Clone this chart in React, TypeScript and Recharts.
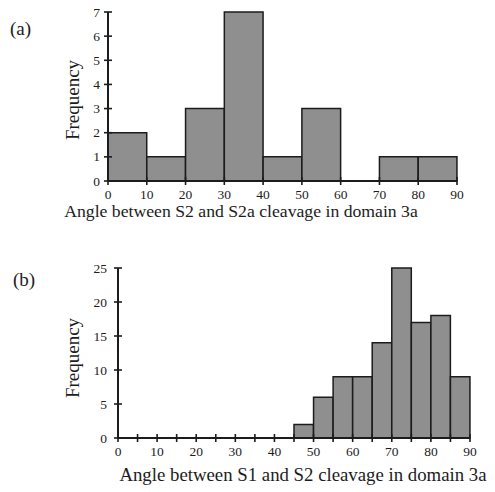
import React from "react"
import { BarChart, Bar, XAxis, YAxis } from "recharts"

// panel (a): 10 degree bins (bin centres)
const binsA = [5, 15, 25, 35, 45, 55, 65, 75, 85]
const countsA = [2, 1, 3, 7, 1, 3, 0, 1, 1]
const xTicksA = [0, 10, 20, 30, 40, 50, 60, 70, 80, 90]
const yTicksA = [0, 1, 2, 3, 4, 5, 6, 7]

// panel (b): 5 degree bins (bin centres)
const binsB = [47.5, 52.5, 57.5, 62.5, 67.5, 72.5, 77.5, 82.5, 87.5]
const countsB = [2, 6, 9, 9, 14, 25, 17, 18, 9]
const xTicksB = [0, 5, 10, 15, 20, 25, 30, 35, 40, 45, 50, 55, 60, 65, 70, 75, 80, 85, 90]
const yTicksB = [0, 5, 10, 15, 20, 25]

const dataA = binsA.map((angle, i) => ({ angle, count: countsA[i] }))
const dataB = binsB.map((angle, i) => ({ angle, count: countsB[i] }))

const INK = "#1c1c1c"
const FILL = "#8f8f8f"
const FONT = "'Liberation Serif', 'DejaVu Serif', serif"

// plot widths, used to make bars one bin wide (just under the band so recharts doesn't shrink them)
const plotA = 495 - 38 - 108
const plotB = 495 - 25 - 118

const XTick = (props: any) => {
  const { x, y, payload } = props
  const v = payload.value
  return (
    <g>
      <line x1={x} x2={x} y1={y - 4} y2={y + 4} stroke={INK} strokeWidth={1.6} />
      {v % 10 === 0 && (
        <text x={x} y={y + 18} textAnchor="middle" fontSize={13.5} fill={INK} fontFamily={FONT}>
          {v}
        </text>
      )}
    </g>
  )
}

const YTick = (props: any) => {
  const { x, y, payload, gap } = props
  return (
    <g>
      <line x1={x - 4} x2={x + 4} y1={y} y2={y} stroke={INK} strokeWidth={1.6} />
      <text x={x - gap} y={y + 4.5} textAnchor="end" fontSize={13.5} fill={INK} fontFamily={FONT}>
        {payload.value}
      </text>
    </g>
  )
}

const label = (text: string, style: React.CSSProperties) => (
  <div
    style={{
      position: "absolute",
      fontFamily: FONT,
      color: INK,
      whiteSpace: "nowrap",
      lineHeight: 1,
      ...style,
    }}
  >
    {text}
  </div>
)

export default function App() {
  return (
    <div style={{ position: "absolute", left: 0, top: 0, width: 495, height: 492, background: "#fff" }}>
      <div style={{ position: "absolute", left: 0, top: 0 }}>
        <BarChart
          width={495}
          height={230}
          data={dataA}
          margin={{ top: 12, right: 38, bottom: 19, left: 68 }}
          barSize={plotA / 9 - 0.05}
        >
          <XAxis
            dataKey="angle"
            type="number"
            domain={[0, 90]}
            ticks={xTicksA}
            interval={0}
            height={30}
            tickSize={0}
            tickMargin={0}
            tickLine={false}
            axisLine={{ stroke: INK, strokeWidth: 2 }}
            tick={<XTick />}
          />
          <YAxis
            domain={[0, 7]}
            ticks={yTicksA}
            interval={0}
            width={40}
            tickSize={0}
            tickMargin={0}
            tickLine={false}
            axisLine={{ stroke: INK, strokeWidth: 2 }}
            tick={<YTick gap={8} />}
          />
          <Bar dataKey="count" fill={FILL} stroke={INK} strokeWidth={1.5} isAnimationActive={false} />
        </BarChart>
      </div>
      <div style={{ position: "absolute", left: 0, top: 250 }}>
        <BarChart
          width={495}
          height={242}
          data={dataB}
          margin={{ top: 18, right: 25, bottom: 24, left: 78 }}
          barSize={plotB / 18 - 0.05}
        >
          <XAxis
            dataKey="angle"
            type="number"
            domain={[0, 90]}
            ticks={xTicksB}
            interval={0}
            height={30}
            tickSize={0}
            tickMargin={0}
            tickLine={false}
            axisLine={{ stroke: INK, strokeWidth: 2 }}
            tick={<XTick />}
          />
          <YAxis
            domain={[0, 25]}
            ticks={yTicksB}
            interval={0}
            width={40}
            tickSize={0}
            tickMargin={0}
            tickLine={false}
            axisLine={{ stroke: INK, strokeWidth: 2 }}
            tick={<YTick gap={11} />}
          />
          <Bar dataKey="count" fill={FILL} stroke={INK} strokeWidth={1.5} isAnimationActive={false} />
        </BarChart>
      </div>
      {label("(a)", { left: 10, top: 19, fontSize: 19 })}
      {label("(b)", { left: 13, top: 270, fontSize: 19 })}
      {label("Frequency", {
        left: 72,
        top: 100,
        fontSize: 19,
        transform: "translate(-50%, -50%) rotate(-90deg)",
      })}
      {label("Frequency", {
        left: 72,
        top: 358,
        fontSize: 19,
        transform: "translate(-50%, -50%) rotate(-90deg)",
      })}
      {label("Angle between S2 and S2a cleavage in domain 3a", {
        left: 241,
        top: 212,
        fontSize: 17.7,
        transform: "translate(-50%, -50%)",
      })}
      {label("Angle between S1 and S2 cleavage in domain 3a", {
        left: 303,
        top: 475,
        fontSize: 18.8,
        transform: "translate(-50%, -50%)",
      })}
    </div>
  )
}
